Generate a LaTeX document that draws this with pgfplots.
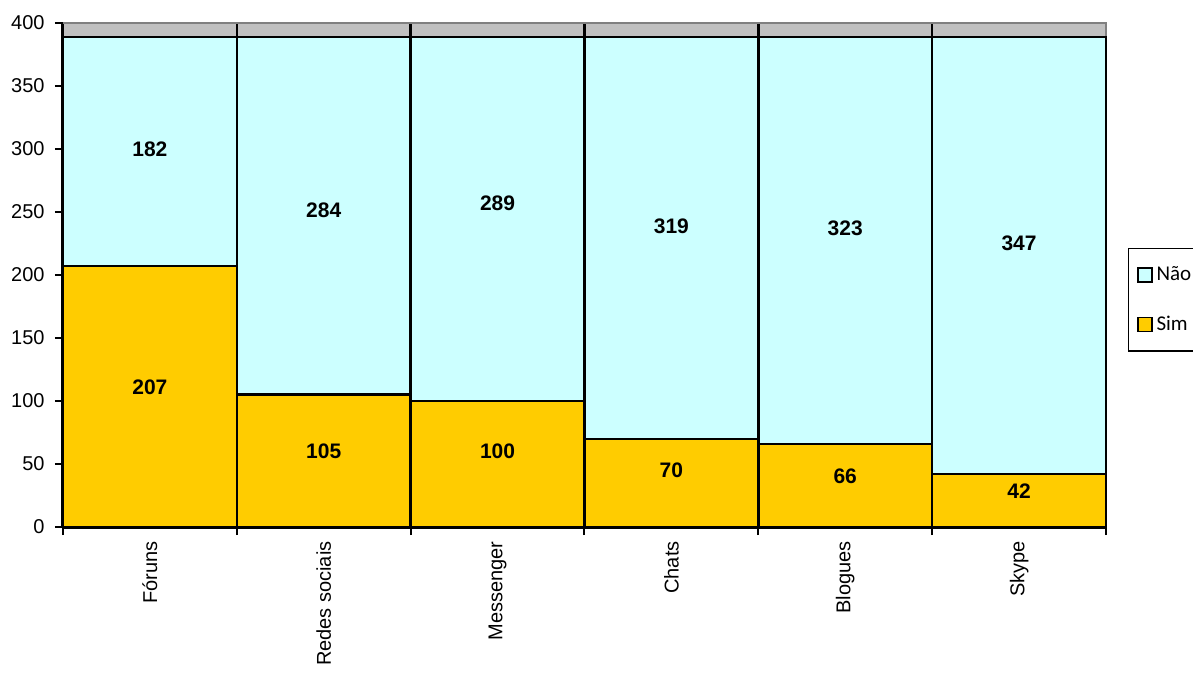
\documentclass[border=0pt]{standalone}
\usepackage{pgfplots}
\pgfplotsset{compat=1.18}
\usepackage{pgfplotstable}
\usepackage{fontspec}
\setmainfont{Liberation Sans}
\newfontfamily\calibri{Carlito}
\definecolor{gold}{HTML}{FFCC00}
\definecolor{lcyan}{HTML}{CCFFFF}
\definecolor{bggray}{HTML}{C0C0C0}
\definecolor{bordergray}{HTML}{808080}

\pgfplotstableread{
x sim nao ysim ynao
0 207 182 111.1 300.0
1 105 284 60.3 251.6
2 100 289 60.3 257.1
3 70 319 45.2 238.9
4 66 323 40.5 237.3
5 42 347 28.6 225.4
}\data

\pgfplotsset{mybar/.style={ybar, bar width=1, bar shift=0pt, draw=black, line width=1.25pt,
  legend image code/.code={\draw[##1, line width=0.9pt] (0pt,-3.5pt) rectangle (7pt,3.5pt);}}}

\begin{document}
\begin{tikzpicture}
\useasboundingbox (-31.5pt,-74pt) rectangle (565pt,263.5pt);
\clip (-31.5pt,-74pt) rectangle (565pt,263.5pt);
\begin{axis}[
  scale only axis, width=521.5pt, height=252pt,
  at={(0pt,0pt)}, anchor=south west,
  xmin=-0.5, xmax=5.5, ymin=0, ymax=400,
  axis lines*=left,
  axis line style={-, line width=1.5pt, black},
  axis background/.style={fill=bggray},
  xmajorgrids, grid style={black, line width=1.25pt},
  xtick={-0.5,0.5,1.5,2.5,3.5,4.5,5.5}, xticklabels={},
  extra x ticks={0,1,2,3,4,5},
  extra x tick labels={Fóruns,Redes sociais,Messenger,Chats,Blogues,Skype},
  extra x tick style={major tick length=0pt, grid=none, tick label style={rotate=90, anchor=east, inner xsep=7pt}},
  ytick={0,50,...,400},
  /pgf/number format/assume math mode=true,
  tick align=outside, major tick length=4pt,
  tick style={black, line width=1pt},
  tick label style={font=\fontsize{10}{12}\selectfont},
  yticklabel style={inner xsep=5pt},
  legend style={at={(rel axis cs:1.0211,0.5536)}, anchor=north west, draw=black, line width=0.7pt,
    font=\calibri\fontsize{10.5}{12}\selectfont, row sep=12pt, inner xsep=4pt, inner ysep=7pt},
  legend cell align=left,
  clip=false,
]
\draw[bordergray, line width=1.4pt] (axis cs:-0.5,400) -- (axis cs:5.5,400) -- (axis cs:5.5,389);
\addplot[mybar, fill=lcyan] table[x=x, y expr=\thisrow{sim}+\thisrow{nao}] {\data};
\addlegendentry{Não}
\addplot[mybar, fill=gold] table[x=x, y=sim] {\data};
\addlegendentry{Sim}
\addplot[draw=none, forget plot, nodes near coords, point meta=explicit symbolic,
  every node near coord/.style={anchor=center, font=\bfseries\fontsize{10.5}{12}\selectfont}]
  table[x=x, y=ysim, meta=sim] {\data};
\addplot[draw=none, forget plot, nodes near coords, point meta=explicit symbolic,
  every node near coord/.style={anchor=center, font=\bfseries\fontsize{10.5}{12}\selectfont}]
  table[x=x, y=ynao, meta=nao] {\data};
\end{axis}
\end{tikzpicture}
\end{document}
